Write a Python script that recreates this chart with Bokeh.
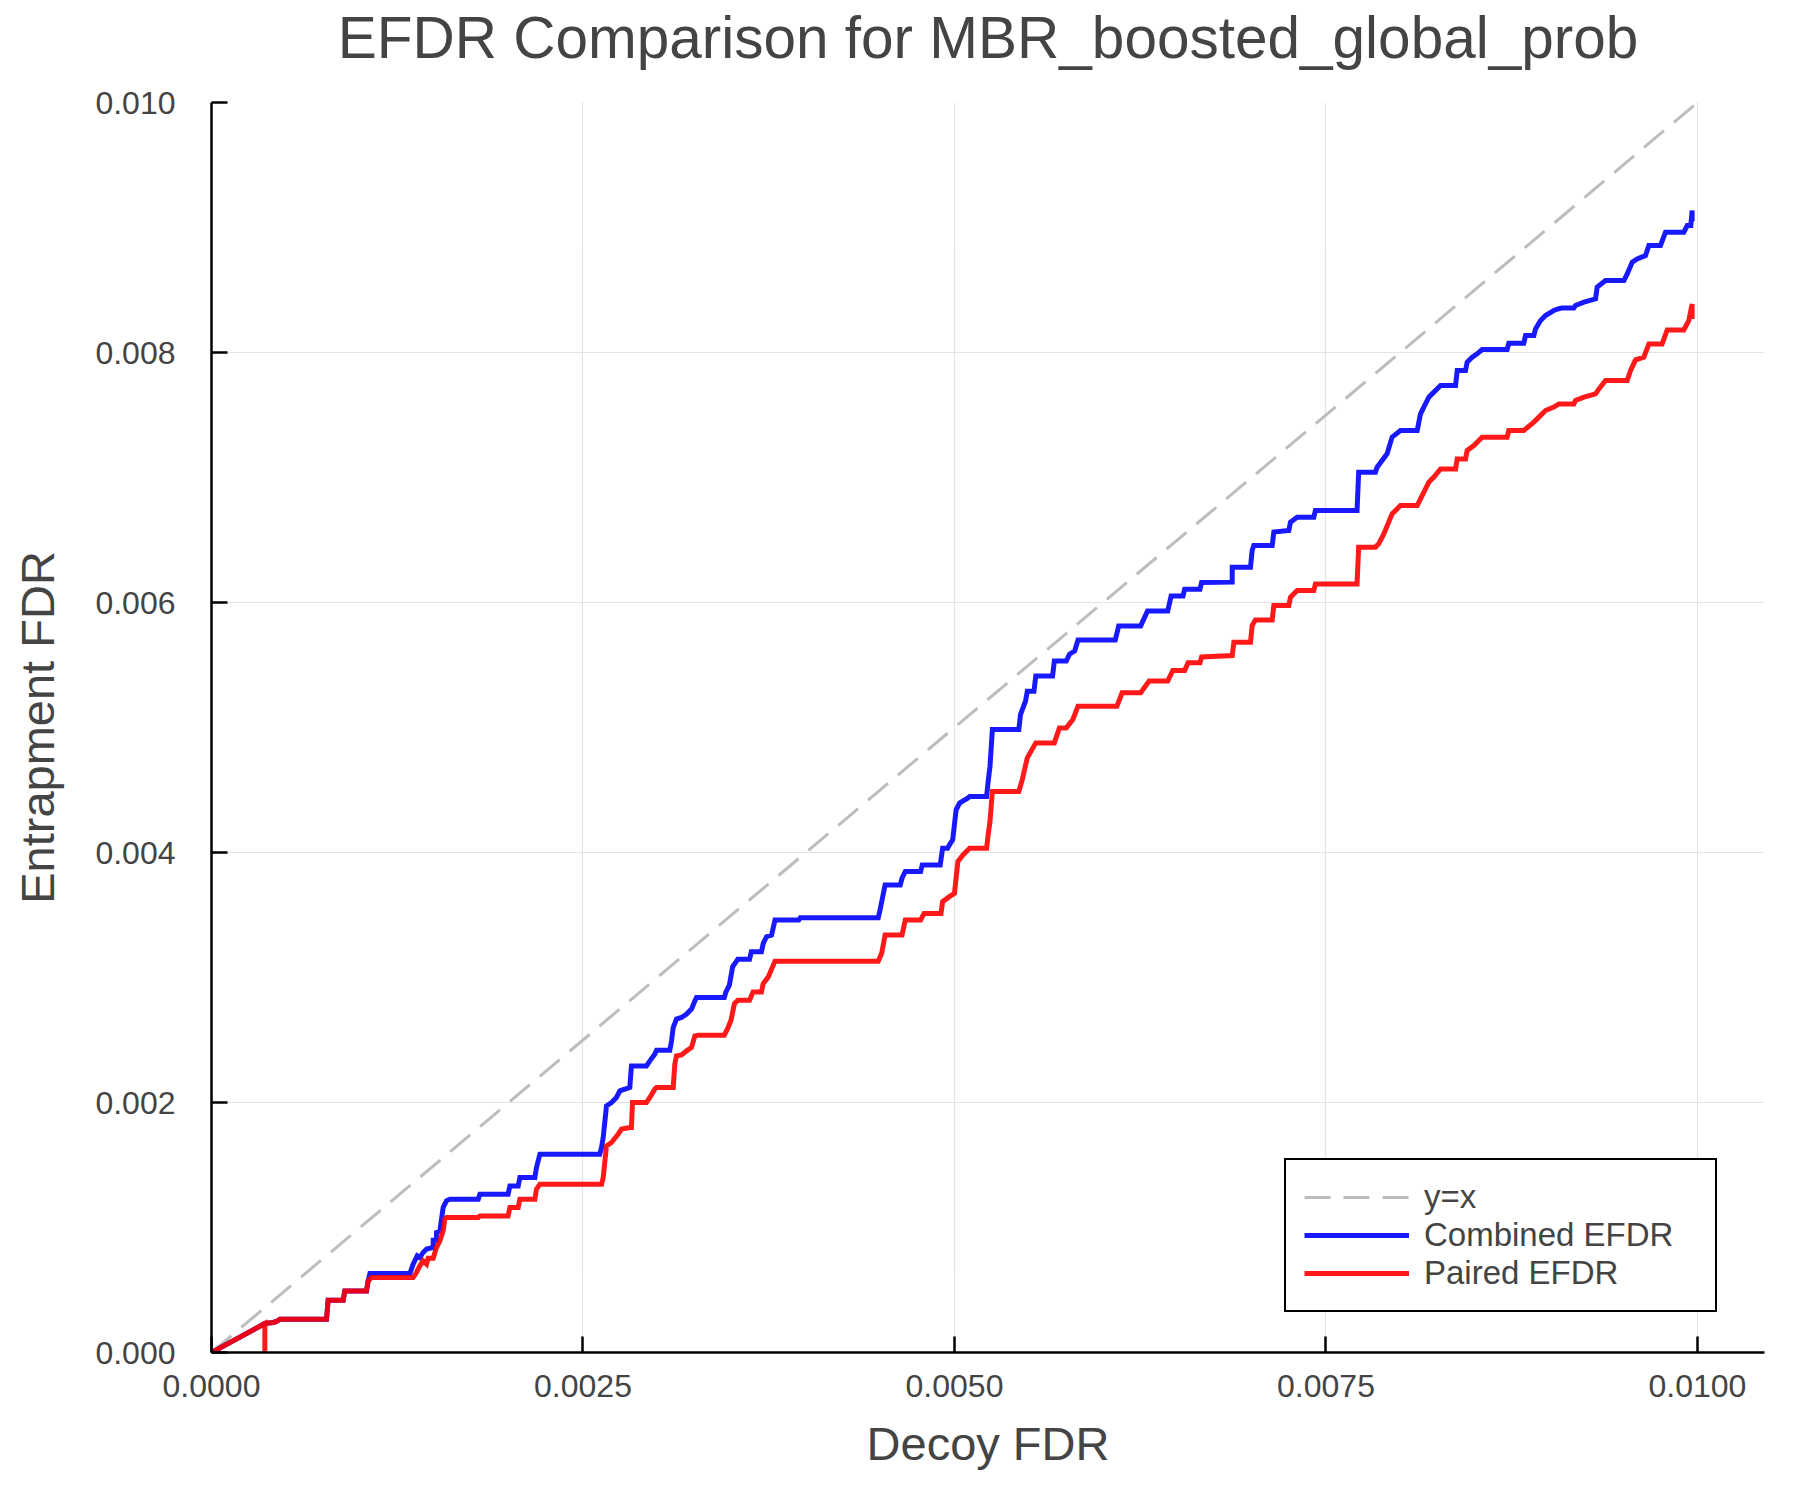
from bokeh.plotting import figure
from bokeh.models import FixedTicker, PrintfTickFormatter, Legend, LegendItem, Range1d
from bokeh.embed import file_html
from bokeh.resources import INLINE

# ---- data ----
identity_x = [0.0, 0.01]
identity_y = [0.0, 0.01]

combined_x = [0.0, 0.000359, 0.000415, 0.000437, 0.00046, 0.000774, 0.000785, 0.000886, 0.000897, 0.001043,
              0.001054, 0.001066, 0.001335, 0.001357, 0.001384, 0.001402, 0.001424, 0.001447, 0.001492, 0.001492,
              0.001514, 0.001514, 0.001537, 0.001559, 0.001581, 0.001604, 0.001795, 0.001806, 0.001996, 0.002008,
              0.002064, 0.002075, 0.002176, 0.002187, 0.00221, 0.002613, 0.002625, 0.002636, 0.002658, 0.002692,
              0.002725, 0.002748, 0.002782, 0.002815, 0.002826, 0.002927, 0.00295, 0.002983, 0.002995, 0.003084,
              0.003096, 0.003107, 0.003129, 0.003163, 0.003197, 0.00323, 0.003253, 0.003264, 0.003451,
              0.003462, 0.003485, 0.003507, 0.003542, 0.003621, 0.003633, 0.003701, 0.003713, 0.003735, 0.003769,
              0.003792, 0.003952, 0.003963, 0.004487, 0.004499, 0.004533, 0.004635, 0.004647, 0.004669, 0.004772,
              0.004783, 0.004904, 0.00492, 0.004954, 0.004966, 0.004988, 0.005011, 0.005034, 0.005091, 0.005102,
              0.005216, 0.005228, 0.005239, 0.005255, 0.005433, 0.005444, 0.005478, 0.00549, 0.005535, 0.005547,
              0.00566, 0.005672, 0.005752, 0.005774, 0.005809, 0.005831, 0.006082, 0.006105, 0.006253, 0.006299,
              0.006435, 0.006458, 0.006538, 0.006549, 0.006652, 0.006663,
              0.006869, 0.006869, 0.006992, 0.007003, 0.007014, 0.007138, 0.007149, 0.00725, 0.007261, 0.007306,
              0.007418, 0.007429, 0.007709, 0.00772, 0.007833, 0.007844, 0.007911, 0.007945, 0.008001, 0.008114,
              0.008136, 0.008192, 0.008226, 0.008271, 0.008372, 0.008383, 0.008439, 0.00845, 0.008484, 0.008517,
              0.008551, 0.008719, 0.00873, 0.008831, 0.008843, 0.008899, 0.00891, 0.008944, 0.008977, 0.009033,
              0.009067, 0.00909, 0.009168, 0.009179, 0.009236, 0.009314, 0.009325, 0.009381, 0.009505, 0.009527,
              0.009561, 0.009594, 0.00965, 0.009673, 0.009751, 0.009785, 0.009908, 0.009931, 0.009955, 0.009964,
              0.009964]
combined_efdr = [0.0, 0.000232, 0.00024, 0.000248, 0.000267, 0.000267, 0.000419, 0.000419, 0.000493, 0.000493,
                 0.000573, 0.000632, 0.000632, 0.000707, 0.000773, 0.00076, 0.0008, 0.000827, 0.00084, 0.000899,
                 0.000899, 0.00096, 0.000973, 0.00116, 0.001213, 0.001227, 0.001227, 0.001267, 0.001267, 0.001333,
                 0.001333, 0.0014, 0.0014, 0.00148, 0.001587, 0.001587, 0.00164, 0.00172, 0.001973, 0.002,
                 0.00204, 0.002093, 0.002107, 0.00212, 0.002293, 0.002293, 0.002333, 0.002387, 0.002419, 0.002419,
                 0.002493, 0.0026, 0.002667, 0.00268, 0.002707, 0.002747, 0.002813, 0.00284, 0.00284,
                 0.002885, 0.002939, 0.003086, 0.003147, 0.003147, 0.003206, 0.003206, 0.003273, 0.003326, 0.00334,
                 0.00346, 0.00346, 0.003479, 0.003479, 0.00354, 0.003741, 0.003741, 0.003794, 0.003848, 0.003848,
                 0.003901, 0.003901, 0.004035, 0.004035, 0.004061, 0.004102, 0.004342, 0.004396, 0.004436, 0.004449,
                 0.004449, 0.004583, 0.00469, 0.004984, 0.004984, 0.005104, 0.005211, 0.005291, 0.005291, 0.005412,
                 0.005412, 0.005532, 0.005532, 0.005586, 0.005612, 0.0057, 0.0057, 0.005813, 0.005813, 0.005933,
                 0.005933, 0.006053, 0.006053, 0.006107, 0.006107, 0.00616,
                 0.006163, 0.006283, 0.006283, 0.006416, 0.006456, 0.006456, 0.006563, 0.006576, 0.006643, 0.006683,
                 0.006683, 0.006736, 0.006736, 0.007043, 0.007043, 0.007083, 0.007189, 0.007323, 0.007376, 0.007376,
                 0.007509, 0.007643, 0.007683, 0.007736, 0.007736, 0.007856, 0.007856, 0.007923, 0.007963, 0.007989,
                 0.008024, 0.008024, 0.008075, 0.008075, 0.008136, 0.008136, 0.008189, 0.008256, 0.008296, 0.008336,
                 0.00835, 0.008357, 0.008357, 0.008376, 0.008403, 0.008429, 0.008523, 0.008576, 0.008576, 0.008629,
                 0.008723, 0.008749, 0.008776, 0.008856, 0.008856, 0.008963, 0.008963, 0.009016, 0.009016, 0.009136,
                 0.00905]

paired_x = [0.0, 0.000359, 0.000359, 0.000359, 0.000415, 0.000437, 0.00046, 0.000774, 0.000785, 0.000886,
            0.000897, 0.001043, 0.001054, 0.001077, 0.001357, 0.001379, 0.001402, 0.001424, 0.001447, 0.001458,
            0.001492, 0.001514, 0.001537, 0.001559, 0.00157, 0.001581, 0.001795, 0.001806, 0.001996, 0.002008,
            0.002064, 0.002075, 0.002176, 0.002187, 0.00221, 0.002625, 0.002636, 0.002658, 0.002692, 0.002737,
            0.002759, 0.002815, 0.002826, 0.002833, 0.002927, 0.00295, 0.002983, 0.002995, 0.003107, 0.003118,
            0.003129, 0.003163, 0.003197, 0.00323, 0.003253, 0.003275, 0.003451,
            0.003473, 0.003496, 0.003519, 0.003542, 0.003621, 0.003644, 0.003701, 0.003713, 0.003747, 0.003792,
            0.004487, 0.00451, 0.004533, 0.004647, 0.004669, 0.004772, 0.004795, 0.004909, 0.00492, 0.004966,
            0.005, 0.005023, 0.005057, 0.005102, 0.005216, 0.005228, 0.005239, 0.005255, 0.005433, 0.005456,
            0.00549, 0.005547, 0.005672, 0.005706, 0.005752, 0.005797, 0.005831, 0.006093, 0.006128, 0.006253,
            0.00631, 0.006435, 0.006469, 0.006549, 0.006572, 0.006652, 0.006663,
            0.006869, 0.00688, 0.006992, 0.007003, 0.007025, 0.007138, 0.007149, 0.00725, 0.007261, 0.007306,
            0.007418, 0.007429, 0.007709, 0.00772, 0.007833, 0.007855, 0.007889, 0.007945, 0.008001, 0.008114,
            0.008136, 0.008192, 0.008226, 0.008271, 0.008372, 0.008383, 0.008439, 0.00845, 0.008495, 0.008551,
            0.008719, 0.00873, 0.008831, 0.008899, 0.008921, 0.008977, 0.009033, 0.009067, 0.009168, 0.009179,
            0.009236, 0.009314, 0.009337, 0.009381, 0.009527, 0.00955, 0.009583, 0.009639, 0.009673, 0.009762,
            0.009796, 0.009908, 0.009942, 0.009964, 0.009964]
paired_efdr = [0.0, 0.000232, 0.0, 0.000232, 0.00024, 0.000248, 0.000267, 0.000267, 0.000419, 0.000419,
               0.000493, 0.000493, 0.000573, 0.0006, 0.0006, 0.00064, 0.000693, 0.000733, 0.000707, 0.000755,
               0.000755, 0.00084, 0.000893, 0.000973, 0.001067, 0.00108, 0.00108, 0.001093, 0.001093, 0.00116,
               0.00116, 0.001227, 0.001227, 0.001307, 0.001347, 0.001347, 0.0014, 0.001653, 0.00168, 0.001747,
               0.001787, 0.0018, 0.0018, 0.002, 0.002, 0.00204, 0.002107, 0.00212, 0.00212, 0.002307,
               0.002373, 0.002381, 0.002413, 0.00244, 0.002533, 0.002539, 0.002539,
               0.002591, 0.002658, 0.002791, 0.002818, 0.002818, 0.002885, 0.002885, 0.002952, 0.003005, 0.003131,
               0.003131, 0.003193, 0.00334, 0.00334, 0.00346, 0.00346, 0.003513, 0.003513, 0.003607, 0.003647,
               0.003674, 0.003928, 0.003981, 0.004035, 0.004035, 0.004155, 0.004249, 0.004489, 0.004489, 0.004583,
               0.004757, 0.004877, 0.004877, 0.004997, 0.004997, 0.005064, 0.005171, 0.005171, 0.005278, 0.005278,
               0.005372, 0.005372, 0.005457, 0.005457, 0.005519, 0.005519, 0.005564,
               0.005576, 0.005683, 0.005683, 0.005816, 0.005861, 0.005861, 0.005976, 0.005976, 0.006043, 0.006096,
               0.006096, 0.006149, 0.006149, 0.006443, 0.006443, 0.006469, 0.006549, 0.006709, 0.006776, 0.006776,
               0.006829, 0.006963, 0.007003, 0.007069, 0.007069, 0.007149, 0.007149, 0.007216, 0.007256, 0.007323,
               0.007323, 0.007376, 0.007376, 0.007443, 0.007469, 0.007536, 0.007563, 0.007589, 0.007589, 0.007616,
               0.007643, 0.007669, 0.007709, 0.007776, 0.007776, 0.007856, 0.007941, 0.007963, 0.008069, 0.008069,
               0.008181, 0.008181, 0.008256, 0.008389, 0.008269]

x_ticks = [0.0, 0.0025, 0.005, 0.0075, 0.01]
y_ticks = [0.0, 0.002, 0.004, 0.006, 0.008, 0.01]

title_text = "EFDR Comparison for MBR_boosted_global_prob"
x_label = "Decoy FDR"
y_label = "Entrapment FDR"
legend_labels = ["y=x", "Combined EFDR", "Paired EFDR"]

# ---- styling ----
FONT = "Liberation Sans"
TXT = "#444444"
FRAME_W, FRAME_H = 1553, 1250

p = figure(frame_width=FRAME_W, frame_height=FRAME_H,
           min_border_left=211, min_border_right=20, min_border_top=102, min_border_bottom=132,
           x_range=Range1d(0.0, 0.010451), y_range=Range1d(0.0, 0.01),
           output_backend="svg", toolbar_location=None, tools="",
           background_fill_color="white", border_fill_color="white")
p.outline_line_color = None

p.title.text = title_text
p.title.text_font = FONT
p.title.text_font_size = "58.5px"
p.title.text_font_style = "normal"
p.title.text_color = TXT
p.title.align = "center"
p.title.standoff = 0
p.title.padding = (0, 0, 0, 33)

for ax, ticks, fmt in ((p.xaxis[0], x_ticks, "%.4f"), (p.yaxis[0], y_ticks, "%.3f")):
    ax.ticker = FixedTicker(ticks=ticks)
    ax.formatter = PrintfTickFormatter(format=fmt)
    ax.axis_line_color = "black"
    ax.axis_line_width = 2.5
    ax.major_tick_line_color = "black"
    ax.major_tick_line_width = 2.5
    ax.major_tick_in = 16
    ax.major_tick_out = 0
    ax.minor_tick_line_color = None
    ax.major_label_text_font = FONT
    ax.major_label_text_font_size = "32px"
    ax.major_label_text_color = TXT
    ax.axis_label_text_font = FONT
    ax.axis_label_text_font_size = "47px"
    ax.axis_label_text_font_style = "normal"
    ax.axis_label_text_color = TXT

p.xaxis[0].axis_label = x_label
p.yaxis[0].axis_label = y_label
p.xaxis[0].major_label_standoff = 22
p.yaxis[0].major_label_standoff = 36
p.xaxis[0].axis_label_standoff = 17
p.yaxis[0].axis_label_standoff = 28

p.xgrid.ticker = FixedTicker(ticks=x_ticks)
p.ygrid.ticker = FixedTicker(ticks=y_ticks)
p.grid.grid_line_color = "#e3e3e3"
p.grid.grid_line_width = 1.2

r_id = p.line(identity_x, identity_y, line_color="#bdbdbd", line_width=3, line_dash="26 13")
r_comb = p.line(combined_x, combined_efdr, line_color="blue", line_alpha=0.9, line_width=5,
                line_join="miter")
r_pair = p.line(paired_x, paired_efdr, line_color="red", line_alpha=0.9, line_width=5,
                line_join="miter")

legend = Legend(items=[LegendItem(label=legend_labels[0], renderers=[r_id]),
                       LegendItem(label=legend_labels[1], renderers=[r_comb]),
                       LegendItem(label=legend_labels[2], renderers=[r_pair])],
                location=(1073, 40))
legend.margin = 0
legend.padding = 18
legend.spacing = 0
legend.glyph_width = 105
legend.glyph_height = 38
legend.label_height = 38
legend.label_width = 273
legend.label_standoff = 15
legend.label_text_font = FONT
legend.label_text_font_size = "33px"
legend.label_text_color = TXT
legend.border_line_color = "black"
legend.border_line_alpha = 1.0
legend.border_line_width = 2.5
legend.background_fill_color = "white"
legend.background_fill_alpha = 1.0
p.add_layout(legend, "center")

open("out.html", "w").write(file_html(p, INLINE))
